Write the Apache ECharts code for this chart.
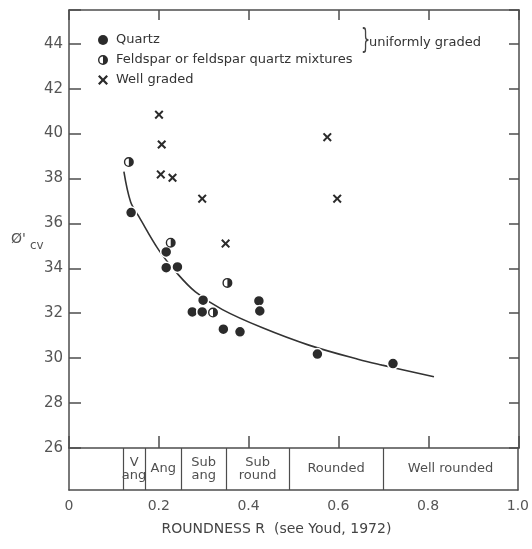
<!DOCTYPE html>
<html>
<head>
<meta charset="utf-8">
<script src="https://cdn.jsdelivr.net/npm/echarts@6/dist/echarts.min.js"></script>
<style>
  html, body { margin: 0; padding: 0; background: #fff; }
  #chart { width: 532px; height: 549px; }
</style>
</head>
<body>
<div id="chart"></div>
<script>
// Critical-state friction angle versus particle roundness

// Uniformly graded quartz sands [roundness R, phi'cv in degrees]
const quartz = [
  [0.138, 36.48], [0.216, 34.73], [0.216, 34.03], [0.241, 34.06],
  [0.298, 32.58], [0.274, 32.06], [0.296, 32.06], [0.343, 31.29],
  [0.380, 31.17], [0.422, 32.55], [0.424, 32.10], [0.552, 30.18],
  [0.720, 29.76]
];

// Uniformly graded feldspar or feldspar-quartz mixtures
const feldspar = [
  [0.133, 38.73], [0.226, 35.14], [0.352, 33.35], [0.320, 32.03]
];

// Well graded sands
const wellGraded = [
  [0.200, 40.84], [0.206, 39.51], [0.204, 38.18], [0.230, 38.03],
  [0.296, 37.10], [0.348, 35.10], [0.574, 39.84], [0.596, 37.10]
];

// Trend line through the uniformly graded results
const trendR   = [0.122, 0.137, 0.156, 0.200, 0.241, 0.281, 0.341, 0.430, 0.533, 0.644, 0.696, 0.811];
const trendPhi = [38.30, 36.95, 36.28, 34.80, 33.76, 32.95, 32.16, 31.35, 30.58, 29.94, 29.69, 29.17];

// Roundness classes (Youd, 1972)
const classBounds = [0.12, 0.17, 0.25, 0.35, 0.49, 0.70, 1.0];
const classNames  = ['V\nang', 'Ang', 'Sub\nang', 'Sub\nround', 'Rounded', 'Well rounded'];

// Tick labels
const xTickLabels = ['0', '0.2', '0.4', '0.6', '0.8', '1.0'];
const yTickLabels = ['26', '28', '30', '32', '34', '36', '38', '40', '42', '44'];

const FONT = 'DejaVu Sans';
const INK = '#2b2b2b';
const AXIS = '#4d4d4d';
const LABEL = '#555';

// Half-filled disc: outer ring plus right half of the inner disc
const HALF_DISC = 'path://M5,0 A5,5 0 1,1 5,10 A5,5 0 1,1 5,0 Z ' +
                  'M5,1.4 A3.6,3.6 0 1,0 5,8.6 A3.6,3.6 0 1,0 5,1.4 Z ' +
                  'M5,1.4 A3.6,3.6 0 0,1 5,8.6 Z';
// Bold diagonal cross
const CROSS = 'path://M0,1.6 L1.6,0 L5,3.4 L8.4,0 L10,1.6 L6.6,5 L10,8.4 L8.4,10 L5,6.6 L1.6,10 L0,8.4 L3.4,5 Z';

const trendData = trendR.map((r, i) => [r, trendPhi[i]]);
const classMarks = classNames.map((name, i) => ({
  name: name,
  value: [(classBounds[i] + classBounds[i + 1]) / 2, 0.5]
}));
const dividers = classBounds.slice(0, -1).map(b => ({ xAxis: b }));

const G_LEFT = 69, G_RIGHT = 13, G_TOP = 10, PLOT_H = 438, BAND_H = 42;

const chart = echarts.init(document.getElementById('chart'), null, { renderer: 'canvas' });

chart.setOption({
  backgroundColor: '#fff',
  animation: false,
  textStyle: { fontFamily: FONT },
  grid: [
    { left: G_LEFT, right: G_RIGHT, top: G_TOP, height: PLOT_H },
    { left: G_LEFT, right: G_RIGHT, top: G_TOP + PLOT_H, height: BAND_H }
  ],
  xAxis: [
    { // main plot, bottom (y = 26 line)
      gridIndex: 0, type: 'value', min: 0, max: 1, interval: 0.2, position: 'bottom',
      axisLine: { show: true, lineStyle: { color: AXIS, width: 1.5 } },
      axisTick: { show: true, inside: true, length: 12, lineStyle: { color: AXIS, width: 1.5 } },
      axisLabel: { show: false }, splitLine: { show: false }
    },
    { // main plot, top frame
      gridIndex: 0, type: 'value', min: 0, max: 1, interval: 0.2, position: 'top',
      axisLine: { show: true, onZero: false, lineStyle: { color: AXIS, width: 1.5 } },
      axisTick: { show: true, inside: true, length: 10, lineStyle: { color: AXIS, width: 1.5 } },
      axisLabel: { show: false }, splitLine: { show: false }
    },
    { // roundness band
      gridIndex: 1, type: 'value', min: 0, max: 1, interval: 0.2, position: 'bottom',
      axisLine: { show: true, lineStyle: { color: AXIS, width: 1.5 } },
      axisTick: { show: false },
      axisLabel: {
        show: true, margin: 9, fontSize: 14, color: LABEL, fontFamily: FONT,
        formatter: v => xTickLabels[Math.round(v / 0.2)]
      },
      splitLine: { show: false },
      name: 'ROUNDNESS R  (see Youd, 1972)',
      nameLocation: 'middle', nameGap: 32,
      nameTextStyle: { fontSize: 14, color: '#444', fontFamily: FONT, padding: [0, 34, 0, 0] }
    }
  ],
  yAxis: [
    {
      gridIndex: 0, type: 'value', min: 26, max: 45.5, interval: 2, position: 'left',
      axisLine: { show: true, lineStyle: { color: AXIS, width: 1.5 } },
      axisTick: { show: true, inside: true, length: 12, lineStyle: { color: AXIS, width: 1.5 } },
      axisLabel: {
        show: true, margin: 6, fontSize: 15, color: LABEL, fontFamily: FONT,
        formatter: v => yTickLabels[Math.round((v - 26) / 2)] || ''
      },
      splitLine: { show: false }
    },
    {
      gridIndex: 0, type: 'value', min: 26, max: 45.5, interval: 2, position: 'right',
      axisLine: { show: true, onZero: false, lineStyle: { color: AXIS, width: 1.5 } },
      axisTick: { show: true, inside: true, length: 10, lineStyle: { color: AXIS, width: 1.5 } },
      axisLabel: { show: false }, splitLine: { show: false }
    },
    {
      gridIndex: 1, type: 'value', min: 0, max: 1, position: 'left',
      axisLine: { show: true, lineStyle: { color: AXIS, width: 1.5 } },
      axisTick: { show: false }, axisLabel: { show: false }, splitLine: { show: false }
    },
    {
      gridIndex: 1, type: 'value', min: 0, max: 1, position: 'right',
      axisLine: { show: true, onZero: false, lineStyle: { color: AXIS, width: 1.5 } },
      axisTick: { show: false }, axisLabel: { show: false }, splitLine: { show: false }
    }
  ],
  legend: {
    orient: 'vertical', left: 93, top: 28,
    itemWidth: 10, itemHeight: 10, itemGap: 6,
    selectedMode: false,
    textStyle: { fontSize: 13, lineHeight: 14, color: '#333', fontFamily: FONT, padding: [0, 0, 0, 3] },
    data: [
      { name: 'Quartz', icon: 'circle', itemStyle: { color: INK, borderWidth: 0 } },
      { name: 'Feldspar or feldspar quartz mixtures', icon: HALF_DISC, itemStyle: { color: INK, borderWidth: 0 } },
      { name: 'Well graded', icon: CROSS, itemStyle: { color: INK, borderWidth: 0 } }
    ]
  },
  graphic: [
    { type: 'text', x: 361, y: 27, scaleX: 0.5, style: { text: '}', font: '29px "DejaVu Sans"', fill: '#444' } },
    { type: 'text', x: 369, y: 36, style: { text: 'uniformly graded', font: '13px "DejaVu Sans"', fill: '#333' } },
    { type: 'text', x: 11, y: 232, style: { text: "Ø'", font: '14px "DejaVu Sans"', fill: LABEL } },
    { type: 'text', x: 30, y: 240, style: { text: 'cv', font: '12px "DejaVu Sans"', fill: LABEL } }
  ],
  series: [
    {
      name: 'trend', type: 'line', xAxisIndex: 0, yAxisIndex: 0,
      data: trendData, smooth: 0.35, showSymbol: false, silent: true, z: 1,
      lineStyle: { color: '#333', width: 1.6 }
    },
    {
      name: 'Quartz', type: 'scatter', xAxisIndex: 0, yAxisIndex: 0,
      data: quartz, symbol: 'circle', symbolSize: 11, z: 3,
      itemStyle: { color: INK, borderColor: '#fff', borderWidth: 1.5, opacity: 1 }
    },
    {
      name: 'Feldspar or feldspar quartz mixtures', type: 'scatter', xAxisIndex: 0, yAxisIndex: 0,
      data: feldspar, symbol: HALF_DISC, symbolSize: 10, z: 4,
      itemStyle: { color: INK, opacity: 1 }
    },
    {
      name: 'Well graded', type: 'scatter', xAxisIndex: 0, yAxisIndex: 0,
      data: wellGraded, symbol: CROSS, symbolSize: 9, z: 3,
      itemStyle: { color: INK, opacity: 1 }
    },
    {
      name: 'classes', type: 'scatter', xAxisIndex: 2, yAxisIndex: 2,
      data: classMarks, symbolSize: 0, silent: true,
      label: {
        show: true, position: 'inside', formatter: '{b}',
        fontSize: 13, lineHeight: 13, color: '#222', fontFamily: FONT, align: 'center'
      },
      markLine: {
        silent: true, symbol: 'none', label: { show: false },
        lineStyle: { color: AXIS, width: 1.2, type: 'solid' },
        data: dividers
      }
    }
  ]
});
</script>
</body>
</html>
